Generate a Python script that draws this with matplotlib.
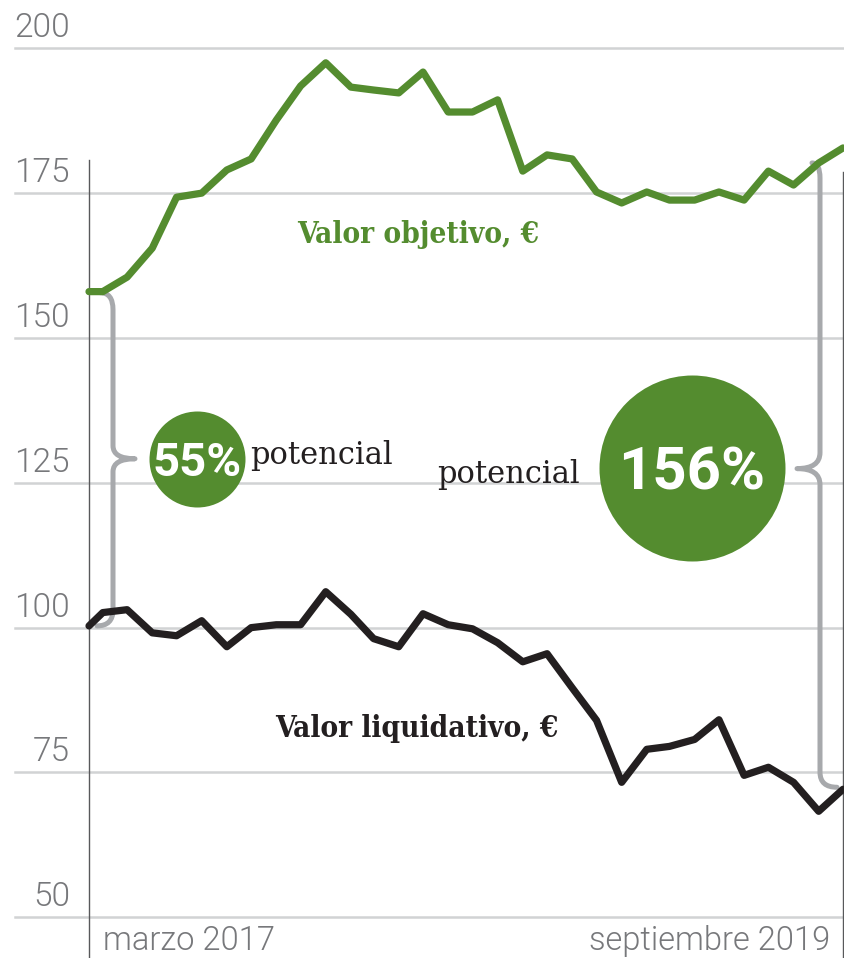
import matplotlib
matplotlib.use("Agg")
import matplotlib.pyplot as plt
import matplotlib.dates as mdates
from matplotlib.path import Path
from matplotlib.patches import PathPatch
import pandas as pd

# data
dates = [pd.Timestamp("2017-03-14")] + list(pd.date_range("2017-03-31", "2019-09-30", freq="ME"))
valor_objetivo = [158.0, 158.0, 160.5, 165.5, 174.3, 175.0, 179.0, 180.9, 187.6, 193.5, 197.5,
                  193.3, 192.8, 192.3, 195.9, 189.0, 189.0, 191.1, 178.8, 181.6, 180.9, 175.2,
                  173.3, 175.2, 173.8, 173.8, 175.2, 173.8, 178.8, 176.4, 180.2, 182.8]
valor_liquidativo = [100.3, 102.6, 103.1, 99.1, 98.6, 101.2, 96.7, 100.0, 100.5, 100.5, 106.2,
                     102.3, 98.1, 96.7, 102.4, 100.5, 99.8, 97.4, 94.1, 95.5, 89.6, 84.0,
                     73.3, 79.0, 79.5, 80.7, 84.1, 74.5, 75.9, 73.3, 68.3, 72.1]
yticks = [50, 75, 100, 125, 150, 175, 200]
label_objetivo = "Valor objetivo, €"
label_liquidativo = "Valor liquidativo, €"
potencial_inicio = "55%"
potencial_fin = "156%"
fecha_inicio = "marzo 2017"
fecha_fin = "septiembre 2019"

GREEN = "#548c2f"
BLACK = "#231f20"
GRID = "#d1d3d4"
BRACE = "#a7a9ac"
TICK = "#77787b"

xs = mdates.date2num(dates)

W, H = 845, 958
fig = plt.figure(figsize=(W / 100, H / 100), dpi=100)
ax = fig.add_axes([0, 0, 1, 1])
ax.axis("off")

# scales: first date at x=89px, last at x=843px; 200 at y=48px, 50 at y=917px
sx = (xs[-1] - xs[0]) / (843 - 89)
ax.set_xlim(xs[0] - 89 * sx, xs[-1] + (W - 843) * sx)
sy = 150 / (917.3 - 48.3)
ax.set_ylim(200 - (H - 48.3) * sy, 200 + 48.3 * sy)


def img(x, y):
    """data -> image pixel (y down)"""
    d = ax.transData.transform((x, y))
    return d[0], H - d[1]


def dat(xp, yp):
    """image pixel -> data"""
    return ax.transData.inverted().transform((xp, H - yp))


# grid + labels
for v in yticks:
    ax.axhline(v, xmin=15 / W, xmax=1, color=GRID, lw=1.8, zorder=1)
    ax.annotate(str(v), xy=(70 / W, v), xycoords=ax.get_yaxis_transform(),
                xytext=(0, 11), textcoords="offset pixels", ha="right", va="baseline",
                fontsize=24, family="Roboto", fontweight=300, color=TICK)

ax.axvline(xs[0], ymin=0, ymax=1 - 160 / H, color="#58595b", lw=1.0, zorder=1)
ax.axvline(xs[-1], ymin=0, ymax=1 - 172 / H, color="#58595b", lw=1.0, zorder=1)

ax.annotate(fecha_inicio, xy=(xs[0], 0), xycoords=ax.get_xaxis_transform(),
            xytext=(14, 8), textcoords="offset pixels", ha="left", va="baseline",
            fontsize=23.5, family="Roboto", fontweight=300, color=TICK)
ax.annotate(fecha_fin, xy=(xs[-1], 0), xycoords=ax.get_xaxis_transform(),
            xytext=(-13, 8), textcoords="offset pixels", ha="right", va="baseline",
            fontsize=23.5, family="Roboto", fontweight=300, color=TICK)


def brace(points, codes):
    verts = [dat(px, py) for px, py in points]
    ax.add_patch(PathPatch(Path(verts, codes), fill=False, edgecolor=BRACE, lw=3.6,
                           capstyle="round", joinstyle="round", zorder=2))


codes = [Path.MOVETO, Path.CURVE3, Path.CURVE3, Path.LINETO, Path.CURVE3, Path.CURVE3,
         Path.CURVE3, Path.CURVE3, Path.LINETO, Path.CURVE3, Path.CURVE3]

# left brace between both starting values
ax_, ay = img(xs[0], valor_objetivo[0])
_, by = img(xs[0], valor_liquidativo[0])
mid_l = (ay + by) / 2
bx = ax_ + 24
brace([(ax_ + 11, ay + 1), (bx, ay + 1), (bx, ay + 18), (bx, mid_l - 13),
       (bx, mid_l), (bx + 22, mid_l), (bx, mid_l), (bx, mid_l + 13), (bx, by - 16),
       (bx, by), (ax_ + 8, by)], codes)

# right brace between both final values
cx, cy = img(xs[-1], valor_objetivo[-1])
_, dy = img(xs[-1], valor_liquidativo[-1])
mid_r = (cy + dy) / 2
rx = cx - 23
brace([(cx - 31, cy + 15), (rx, cy + 15), (rx, cy + 30), (rx, mid_r - 16),
       (rx, mid_r), (rx - 23, mid_r), (rx, mid_r), (rx, mid_r + 16), (rx, dy - 17),
       (rx, dy - 2), (cx - 6, dy - 2)], codes)

# series
ax.plot(xs, valor_objetivo, color=GREEN, lw=5.2, solid_joinstyle="round",
        solid_capstyle="round", zorder=4)
ax.plot(xs, valor_liquidativo, color=BLACK, lw=5.2, solid_joinstyle="round",
        solid_capstyle="round", zorder=4)

ax.text(*dat(297, 243), label_objetivo, ha="left", va="baseline", fontsize=21.3,
        family="DejaVu Serif", fontweight="bold", fontstretch="condensed",
        color=GREEN, zorder=5)
ax.text(*dat(275, 737), label_liquidativo, ha="left", va="baseline", fontsize=21.3,
        family="DejaVu Serif", fontweight="bold", fontstretch="condensed",
        color=BLACK, zorder=5)

# bubbles
c1 = dat(ax_ + 108, mid_l)
ax.scatter([c1[0]], [c1[1]], s=(96 * 0.72) ** 2, color=GREEN, lw=0, zorder=5)
ax.text(c1[0], c1[1], potencial_inicio, ha="center", va="center_baseline", fontsize=34,
        family="Roboto", fontweight="bold", color="white", zorder=6)
ax.text(*dat(ax_ + 161, mid_l + 5), "potencial", ha="left", va="baseline", fontsize=22,
        family="DejaVu Serif", color=BLACK, zorder=6)

c2 = dat(cx - 151, mid_r - 1)
ax.scatter([c2[0]], [c2[1]], s=(186 * 0.72) ** 2, color=GREEN, lw=0, zorder=5)
ax.text(c2[0], c2[1], potencial_fin, ha="center", va="center_baseline", fontsize=43,
        family="Roboto", fontweight="bold", color="white", zorder=6)
ax.text(*dat(cx - 263, mid_r + 14), "potencial", ha="right", va="baseline", fontsize=22,
        family="DejaVu Serif", color=BLACK, zorder=6)

fig.savefig("out.png", dpi=100)
